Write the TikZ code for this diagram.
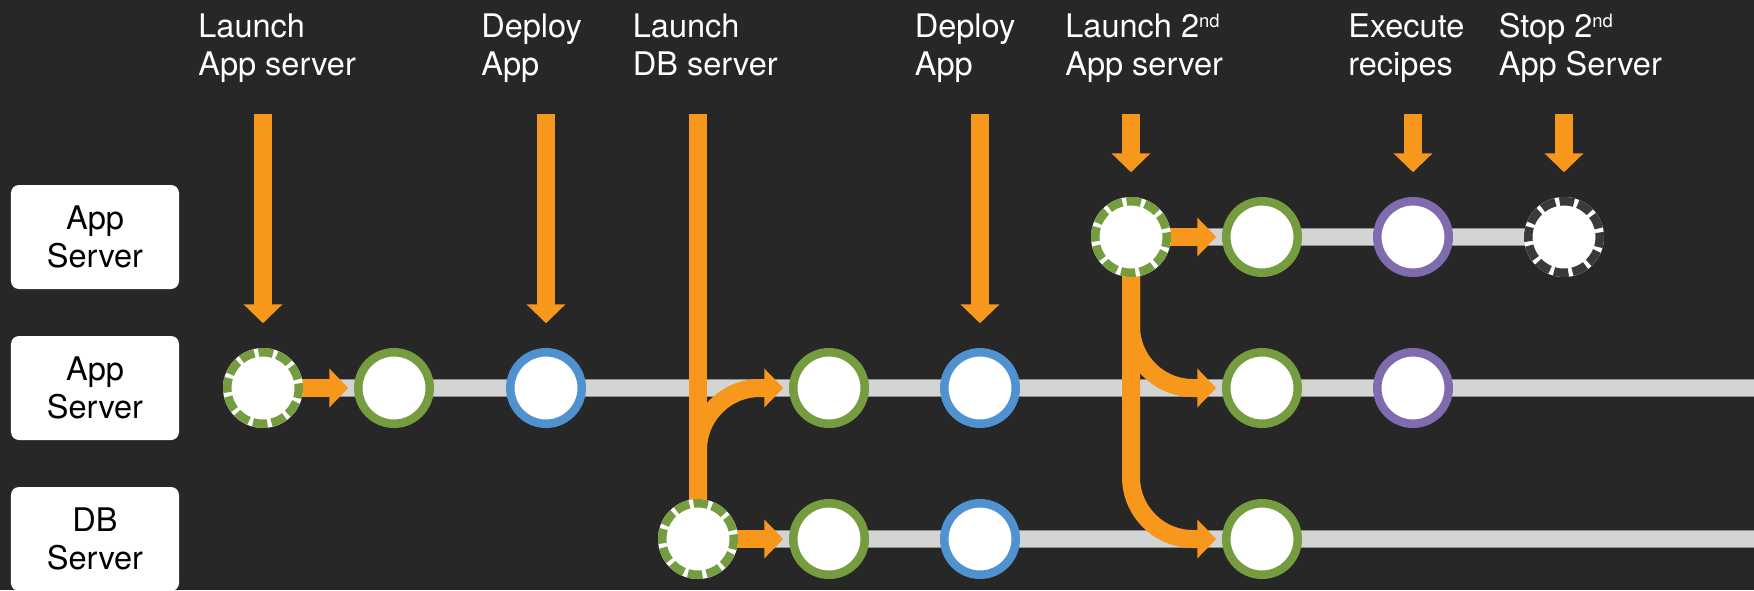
\documentclass[tikz,border=0pt]{standalone}
\usepackage{fontspec}
\setmainfont{TeX Gyre Heros}
\usetikzlibrary{positioning, arrows.meta, backgrounds}

\definecolor{slate}{HTML}{272727}
\definecolor{flowor}{HTML}{F7981D}
\definecolor{ringgreen}{HTML}{759C3E}
\definecolor{ringblue}{HTML}{4F92CF}
\definecolor{ringpurple}{HTML}{7F6BAE}
\definecolor{ringdark}{HTML}{3A3A3A}
\definecolor{trackgray}{HTML}{D3D5D4}
\definecolor{trackedge}{HTML}{8E908F}

\newcommand{\ordsup}{\raisebox{5.7pt}{\fontsize{10.5}{10.5}\selectfont nd}}

\tikzset{
  ring/.style={circle, fill=white, line width=0.17cm, minimum size=1.43cm, inner sep=0pt, outer sep=0pt},
  build/.style={ring, draw=ringgreen},
  deploy/.style={ring, draw=ringblue},
  recipe/.style={ring, draw=ringpurple},
  launch/.style={ring, draw=ringgreen, dash pattern=on 0.29cm off 0.084cm, dash phase=0.2cm, preaction={draw=white, solid}},
  halt/.style={launch, draw=ringdark},
  hostbox/.style={fill=white, rounded corners=0.16cm, minimum width=3.36cm, minimum height=2.08cm, align=center, text=black, font=\fontsize{18.5}{22}\selectfont},
  caption/.style={text=white, align=left, anchor=north west, inner sep=0pt, font=\fontsize{18.5}{21.6}\selectfont},
  flow/.style={draw=flowor, line width=0.36cm},
  flowtip/.style={flow, -{Triangle[width=0.76cm, length=0.38cm]}, shorten >=0.2cm},
  drop/.style={flowtip, shorten >=0.58cm},
  track/.style={draw=trackedge, line width=0.02cm, double=trackgray, double distance=0.32cm}
}

\begin{document}
\begin{tikzpicture}
    \useasboundingbox (0,0) rectangle (35.08,-11.8);
    \coordinate (top) at (0,-2.28);
    \coordinate (edge) at (35.6,0);

    % servers
    \node (host1) [hostbox] at (1.9,-4.74) {App\\Server};
    \node (host2) [hostbox] at (1.9,-7.76) {App\\Server};
    \node (host3) [hostbox] at (1.9,-10.78) {DB\\Server};

    % first app server
    \node (m1) [launch] at (5.26,-7.76) {};
    \node (m2) [build, right=1.19cm of m1] {};
    \node (m3) [deploy, right=1.61cm of m2] {};
    \node (m4) [build, right=4.23cm of m3] {};
    \node (m5) [deploy, right=1.59cm of m4] {};
    \node (m6) [build, right=4.21cm of m5] {};
    \node (m7) [recipe, right=1.59cm of m6] {};

    % db server
    \node (b2) [build, below=1.59cm of m4] {};
    \node (b1) [launch, left=1.19cm of b2] {};
    \node (b3) [deploy, below=1.59cm of m5] {};
    \node (b4) [build, below=1.59cm of m6] {};

    % second app server
    \node (t2) [build, above=1.59cm of m6] {};
    \node (t1) [launch, left=1.19cm of t2] {};
    \node (t3) [recipe, above=1.59cm of m7] {};
    \node (t4) [halt, right=1.59cm of t3] {};

    % events
    \node (c1) [caption] at (3.96,-0.26) {Launch\\App server};
    \node (c2) [caption] at (9.62,-0.26) {Deploy\\App};
    \node (c3) [caption] at (12.65,-0.26) {Launch\\DB server};
    \node (c4) [caption] at (18.29,-0.26) {Deploy\\App};
    \node (c5) [caption] at (21.30,-0.26) {Launch 2\ordsup\\App server};
    \node (c6) [caption] at (26.96,-0.26) {Execute\\recipes};
    \node (c7) [caption] at (29.97,-0.26) {Stop 2\ordsup\\App Server};

    \begin{pgfonlayer}{background}
        \fill [slate] (0,0) rectangle (35.08,-11.8);
        \draw [track] ([xshift=-0.4cm]m2.west) -- (m2 -| edge);
        \draw [track] ([xshift=-0.4cm]b2.west) -- (b2 -| edge);
        \draw [track] ([xshift=-0.4cm]t2.west) -- (t4);
        \draw [drop] (m1 |- top) -- (m1);
        \draw [drop] (m3 |- top) -- (m3);
        \draw [drop] (m5 |- top) -- (m5);
        \draw [drop] (t1 |- top) -- (t1);
        \draw [drop] (t3 |- top) -- (t3);
        \draw [drop] (t4 |- top) -- (t4);
        \draw [flow] (b1 |- top) -- (b1);
        \draw [flowtip, rounded corners=1.24cm] (b1) |- (m4);
        \draw [flowtip, rounded corners=1.24cm] (t1) |- (m6);
        \draw [flowtip, rounded corners=1.24cm] (t1) |- (b4);
        \draw [flowtip] (m1) -- (m2);
        \draw [flowtip] (b1) -- (b2);
        \draw [flowtip] (t1) -- (t2);
    \end{pgfonlayer}
\end{tikzpicture}
\end{document}
